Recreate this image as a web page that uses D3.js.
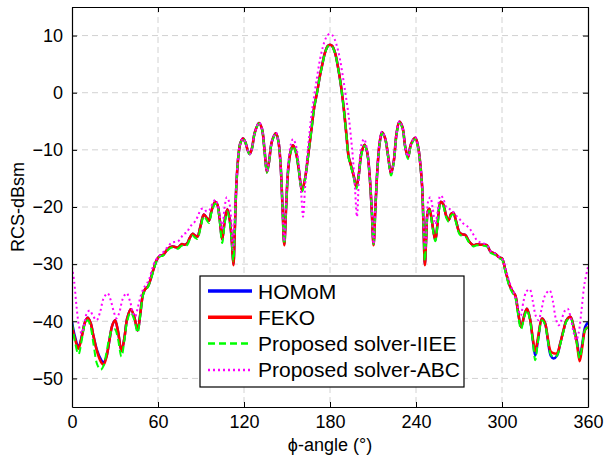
<!DOCTYPE html>
<html><head><meta charset="utf-8">
<script src="https://cdn.jsdelivr.net/npm/d3@7/dist/d3.min.js"></script>
<style>
body{margin:0;background:#fff;}
text{font-family:"Liberation Sans",Arial,sans-serif;}
</style></head>
<body><svg id="c" width="607" height="462"></svg>
<script>
// angle grid for HOMoM / FEKO / IIEE
const angles = [
0,2,4.5,7,9,11,13,15,17.5,20,
22,24,26,28,30,32,34.5,36.5,38.5,41,
43.5,45.8,47.5,49.5,51,53,55,57,59,61,
63.5,66,68,70,72,74,76.5,78.5,80.5,82,
84,86,87.5,89.5,92,94,95.5,97.5,100,101.5,
103,104.8,106.5,108.4,110.2,111.5,112.6,113.6,114.7,116.2,
117.5,119.3,121,122.5,124,125.5,127.5,130.5,132.5,134.3,
136,137.5,139.5,142.3,144,145.5,146.8,148.1,149.4,150.8,
152.5,154.2,156,158,160.5,162.5,164,165.5,167.4,169,
171,173,174.5,176.5,178.5,180,181.5,183.5,185.5,187.5,
189.5,191.5,193,194.5,196.5,198.4,200,202,204.2,206,
207.5,209,210.4,211.7,213.3,214.8,216.3,218.5,220.5,222.6,
224.5,226.5,228.4,230.5,232.5,234.4,236.5,239.5,241.5,243,
244.3,245.3,246.2,247.2,248.2,249.3,250.5,252,253.5,255,
257.2,259,261,262.8,264.5,266,268,270.4,272.5,274.4,
277,280,282.5,285,287.5,289.5,292,295.3,298,300,
302.3,305,307,309.3,311,313.3,315.5,317.4,319.5,321.5,
323.2,325,327.9,330,332,334,336,338.4,340.5,343,
345,347.7,350,352.3,354.2,356,358,360];

const feko = [
-40.9,-43,-44.8,-42.5,-40.2,-39.4,-40.3,-42.6,-45.3,-47,
-47.6,-46.3,-43.5,-40.8,-39.8,-41.6,-45.2,-43,-39.5,-37.9,
-39.3,-41.6,-39,-35.3,-34.4,-33.9,-32.5,-30.8,-29.3,-28.6,
-28.4,-27.6,-27.1,-26.9,-27,-27.1,-26.5,-26.6,-26.3,-25.5,
-24.7,-25,-25.2,-23.5,-21.3,-21.9,-22.4,-20.5,-19.1,-19.6,
-22,-25.7,-22.5,-20.4,-22.5,-26,-30.2,-24,-16,-10.8,
-8.8,-8,-8.7,-10,-10.7,-9.8,-7,-5.3,-6.3,-10,
-13.9,-12,-8.5,-7.1,-8.5,-12.5,-19.5,-26.7,-20,-13.5,
-10.3,-9.2,-10.2,-13,-17.1,-15.2,-12.5,-9.5,-5.7,-2.5,
0.1,3,4.8,7,8.2,8.4,8.2,7,4.6,1.5,
-2.5,-7.5,-11.2,-12.6,-14.5,-16.5,-14.5,-10.5,-9.1,-10.5,
-14,-20,-26.7,-20,-12.5,-8.5,-6.9,-8,-11,-14.2,
-12,-7,-5.1,-6,-9.5,-11.3,-9,-7.9,-9.5,-12.5,
-16.5,-24,-30.2,-25,-20.8,-20.3,-21.5,-24,-25.8,-23,
-19.1,-19.5,-21.5,-22.3,-21.2,-21,-22.5,-24.5,-24.8,-24.9,
-26,-26.7,-26.5,-26.6,-26.6,-26.7,-27.8,-28.2,-28.8,-29,
-31,-33.5,-34.6,-35.5,-38,-41,-39,-37.8,-39.5,-43,
-45.2,-43,-39.5,-40.3,-43,-45.3,-45.6,-45.6,-44,-41.5,
-39.8,-39.2,-41,-44,-47,-44.5,-41.5,-41];

const homom = [
-40.1,-42.6,-44.5,-42.4,-40.2,-39.4,-40.3,-42.6,-45.1,-46.6,
-47.2,-46.2,-43.5,-40.8,-39.8,-41.6,-45.2,-43,-39.5,-37.9,
-39.3,-41.6,-39,-35.3,-34.4,-33.9,-32.5,-30.8,-29.3,-28.6,
-28.4,-27.6,-27.1,-26.9,-27,-27.1,-26.5,-26.6,-26.3,-25.5,
-24.7,-25,-25.2,-23.5,-21.3,-21.9,-22.4,-20.5,-19.1,-19.6,
-22,-25.7,-22.5,-20.4,-22.5,-26,-30,-24,-16,-10.8,
-8.8,-8,-8.7,-10,-10.7,-9.8,-7,-5.3,-6.3,-10,
-13.9,-12,-8.5,-7.1,-8.5,-12.5,-19.5,-26.5,-20,-13.5,
-10.3,-9.2,-10.2,-13,-17.1,-15.2,-12.5,-9.5,-5.7,-2.5,
0.1,3,4.8,7,8.2,8.4,8.2,7,4.6,1.5,
-2.5,-7.5,-11.2,-12.6,-14.5,-16.5,-14.5,-10.5,-9.1,-10.5,
-14,-20,-26.5,-20,-12.5,-8.5,-6.9,-8,-11,-14.2,
-12,-7,-5.1,-6,-9.5,-11.3,-9,-7.9,-9.5,-12.5,
-16.5,-24,-30,-25,-20.8,-20.3,-21.5,-24,-25.8,-23,
-19.1,-19.5,-21.5,-22.3,-21.2,-21,-22.5,-24.5,-24.8,-24.9,
-26,-26.7,-26.5,-26.6,-26.6,-26.7,-27.8,-28.2,-28.8,-29,
-31,-33.5,-34.6,-35.5,-38,-41,-39,-37.8,-39.5,-43.3,
-46,-43.5,-39.5,-40.3,-43.3,-46,-46.5,-46,-44,-41.5,
-39.8,-39.2,-41,-43.5,-46.3,-44,-41,-40.2];

const iiee = [
-40.3,-43.5,-45.8,-43,-40.5,-39.8,-41,-44,-47.5,-48.5,
-47.8,-45.5,-43,-41.5,-41.4,-43,-46.2,-43.5,-40,-38.4,
-39.8,-42,-39.3,-35.5,-34.6,-34,-32.7,-31,-29.5,-28.7,
-28.5,-27.8,-27.3,-27.1,-27.2,-27.3,-26.8,-26.9,-26.6,-25.8,
-25,-25.4,-25.6,-23.9,-21.6,-22.3,-22.8,-20.8,-19.4,-20,
-22.5,-26.3,-23,-20.8,-23,-26.3,-29.5,-23.5,-16,-10.8,
-8.8,-8,-8.7,-10,-10.8,-9.9,-7.1,-5.4,-6.4,-10.2,
-14,-12.2,-8.6,-7.2,-8.6,-12.6,-19.5,-26.5,-20,-13.5,
-10.4,-9.3,-10.3,-13.2,-17.3,-15.3,-12.6,-9.6,-5.8,-2.6,
0,2.9,4.7,6.9,8.1,8.3,8.1,6.9,4.5,1.4,
-2.6,-7.6,-11.4,-12.8,-14.8,-16.8,-14.8,-10.7,-9.3,-10.7,
-14.2,-20,-26.5,-20,-12.7,-8.7,-7.1,-8.2,-11.2,-14.5,
-12.2,-7.2,-5.3,-6.2,-9.7,-11.6,-9.3,-8.1,-9.8,-12.8,
-16.7,-24,-29.5,-24.5,-21,-20.6,-21.8,-24.3,-26,-23.3,
-19.4,-19.8,-21.8,-22.6,-21.5,-21.3,-22.8,-24.8,-25.1,-25.2,
-26.2,-26.9,-26.7,-26.8,-26.8,-26.9,-28,-28.4,-29,-29.2,
-31.3,-33.8,-34.9,-35.9,-38.5,-41.4,-39.3,-38,-39.8,-43.6,
-46.8,-43.8,-39.8,-40.6,-43.4,-45.8,-46.3,-46,-44.2,-41.7,
-40,-39.4,-41.3,-44,-46.5,-44.2,-41.5,-41];

// angle grid and values for ABC
const abcAngles = [
0,1.5,3.2,5,6.7,8.5,10.5,12.5,14.5,17.2,
19.5,22,24.8,27,29,31.1,33,35.5,38.1,40.5,
42.5,44,46,48,50,52,54,56,58,60,
62,64,66,68,70,72,74,76,78,80,
82,84,86,88,90,92,94,96,98,100,
101.5,103,104.7,106.5,108,109.5,111,112.3,113.3,114.5,
115.5,117,119.3,121,122.5,124,125.5,127.5,130.5,132.5,
134.3,136,137.5,139.5,142.3,144,145.5,146.8,148.1,149.4,
150.8,152.5,154.2,156,158,160,161.2,162.5,164,165.5,
167,169,171,173,175,177,178.5,180,181.5,183,
185,187,189,191,193,194.5,196,197.5,198.8,200.5,
202,203.8,205.5,207.5,209,210.4,211.7,213.3,214.8,216.3,
218.5,220.5,222.6,224.5,226.5,228.4,230.5,232.5,234.4,236.5,
239.5,241.5,243,244.5,245.5,246.5,247.5,248.5,250,251.5,
253.5,255,257,259,261,263,265,267,269,271,
273,275,277.5,280,282.5,285,287.5,290,292,295,
298,300,302.5,305,307,309,311,313,315,317,
319.3,321.5,323.5,325.5,327.5,330,333.2,335.5,337.5,339.5,
341.5,343.5,345.8,348,350,351.8,353.5,355.5,357.5,360];

const abc = [
-30.5,-33,-37.5,-41,-42.1,-40.5,-38.5,-38.1,-39,-39.8,
-38.5,-36,-35.1,-36.3,-38.2,-39.5,-38.5,-36,-35.1,-36.5,
-38.5,-39.2,-37.5,-35.5,-34.2,-33.5,-32.5,-30.8,-29.5,-28.8,
-28.3,-27.8,-27.2,-26.6,-26.2,-26.1,-26,-25.4,-24.7,-24.5,
-23.6,-23,-22.5,-21.5,-20.4,-20.3,-20.8,-20.5,-19.4,-18.7,
-19.5,-21.5,-24,-20,-18.3,-19,-22,-27.5,-23,-17,
-12.5,-9.3,-8,-8.7,-10,-10.8,-9.8,-7,-5.2,-6.3,
-10,-13.8,-12,-8.5,-7,-8.5,-12.5,-19.5,-26,-19,
-12.5,-9.2,-8.1,-9,-12,-18,-21.7,-17,-11.5,-7.5,
-4,-0.5,2.8,5.8,8,9.5,10.1,10.3,10.1,9.5,
8,5.8,2.8,-0.5,-4,-7.5,-11.5,-17,-21.7,-13,
-9,-8.1,-9.5,-13.8,-19.5,-26.5,-19.5,-12.3,-8.3,-6.8,
-8,-11,-14,-12,-7,-5,-6,-9.5,-11.2,-9,
-7.8,-9.5,-12.5,-17,-24,-27.5,-23,-19,-18.3,-20,
-23,-21,-18,-18.5,-20,-20.3,-20.6,-21.2,-21.8,-22.3,
-22.9,-23.2,-23.8,-24.8,-25.8,-26.2,-26.4,-26.8,-27.7,-28.1,
-28.7,-29,-30.8,-33,-34.3,-35.5,-37.5,-39,-36.5,-34.8,
-34.4,-36.5,-39,-39.8,-38,-35.5,-34.6,-36.5,-39.5,-40.7,
-39.8,-38.3,-37.8,-39.5,-42,-43.3,-42,-38,-33.5,-30.5];

const xTicks = [0,60,120,180,240,300,360];
const yTicks = [-50,-40,-30,-20,-10,0,10];
const seriesNames = ["HOMoM","FEKO","Proposed solver-IIEE","Proposed solver-ABC"];

const svg = d3.select("#c");
const m = {l:72, t:7, r:20, b:55};
const W = 588 - m.l, H = 407 - m.t;
const g = svg.append("g").attr("transform",`translate(${m.l},${m.t})`);
const x = d3.scaleLinear().domain([0,360]).range([0,W]);
const y = d3.scaleLinear().domain([-55,15]).range([H,0]);

// grid
const grid = g.append("g").attr("stroke","#d2d2d2").attr("stroke-width",1).attr("stroke-dasharray","6,4");
xTicks.slice(1,-1).forEach(t=>grid.append("line").attr("x1",x(t)).attr("x2",x(t)).attr("y1",0).attr("y2",H));
yTicks.forEach(t=>grid.append("line").attr("y1",y(t)).attr("y2",y(t)).attr("x1",0).attr("x2",W));

// lines
const defs = [
 {name:seriesNames[0], xs:angles, ys:homom, color:"#0000ff", w:2.5, dash:null},
 {name:seriesNames[1], xs:angles, ys:feko, color:"#ff0000", w:2.5, dash:null},
 {name:seriesNames[2], xs:angles, ys:iiee, color:"#00ff00", w:2, dash:"7,4"},
 {name:seriesNames[3], xs:abcAngles, ys:abc, color:"#ff00ff", w:2, dash:"2,3"}
];
const line = d3.line().x(d=>x(d[0])).y(d=>y(d[1])).curve(d3.curveCatmullRom.alpha(0.5));
svg.append("defs").append("clipPath").attr("id","clp").append("rect").attr("width",W).attr("height",H);
defs.forEach(s=>{
  const pts = s.xs.map((a,i)=>[a,s.ys[i]]);
  g.append("path").attr("d",line(pts)).attr("fill","none").attr("stroke",s.color)
   .attr("stroke-width",s.w).attr("stroke-dasharray",s.dash).attr("clip-path","url(#clp)");
});

// axes
const fs = 18;
const xb = g.append("g").attr("transform",`translate(0,${H})`)
  .call(d3.axisBottom(x).tickValues(xTicks).tickSizeInner(-5).tickSizeOuter(0).tickPadding(8));
const xt = g.append("g").call(d3.axisTop(x).tickValues(xTicks).tickSizeInner(-5).tickSizeOuter(0).tickFormat(""));
const yl = g.append("g").call(d3.axisLeft(y).tickValues(yTicks).tickSizeInner(-5).tickSizeOuter(0).tickPadding(9));
const yr = g.append("g").attr("transform",`translate(${W},0)`)
  .call(d3.axisRight(y).tickValues(yTicks).tickSizeInner(-5).tickSizeOuter(0).tickFormat(""));
[xb,xt,yl,yr].forEach(a=>{a.selectAll("path").attr("stroke","#000").attr("stroke-width",1.2);
  a.selectAll("line").attr("stroke","#000");
  a.selectAll("text").attr("font-size",fs).attr("fill","#000").attr("font-family","Liberation Sans, Arial, sans-serif");});

// axis titles
svg.append("text").attr("x",m.l+W/2).attr("y",451).attr("text-anchor","middle").attr("font-size",fs)
  .text("ϕ-angle (°)");
svg.append("text").attr("transform",`translate(24,${m.t+H/2}) rotate(-90)`).attr("text-anchor","middle")
  .attr("font-size",fs).text("RCS-dBsm");

// legend
const lg = svg.append("g").attr("transform","translate(200,276)");
lg.append("rect").attr("width",264).attr("height",111).attr("fill","#fff").attr("stroke","#000").attr("stroke-width",1.2);
defs.forEach((s,i)=>{
  const yy = 15 + i*26.3;
  lg.append("line").attr("x1",8).attr("x2",52).attr("y1",yy).attr("y2",yy).attr("stroke",s.color)
    .attr("stroke-width",s.dash? 2.5:3.5).attr("stroke-dasharray",s.dash);
  lg.append("text").attr("x",58).attr("y",yy+7.5).attr("font-size",21).text(s.name);
});
</script></body></html>
